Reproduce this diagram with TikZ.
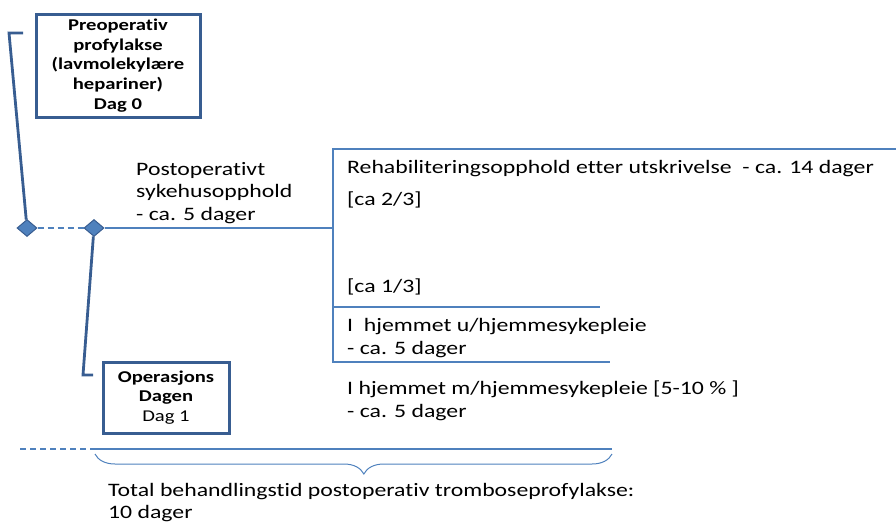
\documentclass[tikz,border=0pt]{standalone}
\usepackage{fontspec}
\setmainfont{Carlito}[FakeStretch=1.25,Ligatures=NoCommon]
\usepackage{tikz}
\usetikzlibrary{shapes.geometric,decorations.pathreplacing}
\definecolor{boxblue}{RGB}{56,93,145}
\definecolor{lineblue}{RGB}{79,129,189}

\begin{document}
\begin{tikzpicture}[x=1pt,y=-1pt,
    infobox/.style={draw=boxblue,line width=3pt,align=center,inner sep=0pt},
    milestone/.style={diamond,draw=boxblue,fill=lineblue,line width=1pt,inner sep=0pt,minimum width=20pt,minimum height=17pt},
    pin/.style={draw=boxblue,line width=2.8pt},
    track/.style={draw=lineblue,line width=1.2pt},
    note/.style={anchor=base west,align=left,inner sep=0pt,font=\fontsize{19}{22.5}\selectfont}]
    \useasboundingbox (0,0) rectangle (896,522);

    % boxes
    \node[infobox,minimum width=164pt,minimum height=103pt,font=\fontsize{16.5}{19.7}\selectfont\bfseries] (preop) at (118,65.5) {Preoperativ\\profylakse\\(lavmolekylære\\hepariner)\\Dag 0};
    \node[infobox,minimum width=126pt,minimum height=71pt,font=\fontsize{16.5}{19.7}\selectfont] (opday) at (166,397.5) {\textbf{Operasjons}\\\textbf{Dagen}\\Dag 1};

    % milestones
    \node[milestone] (d1) at (27,228) {};
    \node[milestone] (d2) at (94,228) {};

    % texts (base = last line)
    \node[note] (hosp) at (136,220) {Postoperativt\\sykehusopphold\\- ca. 5 dager};
    \node[note] (rehab) at (347,173) {Rehabiliteringsopphold etter utskrivelse\ \ - ca. 14 dager};
    \node[note] (share2) at (347,205) {[ca 2/3]};
    \node[note] (share1) at (347,292) {[ca 1/3]};
    \node[note] (home) at (347,354) {I\ \ hjemmet u/hjemmesykepleie\\- ca. 5 dager};
    \node[note] (nurse) at (347,417) {I hjemmet m/hjemmesykepleie [5-10 \% ]\\- ca. 5 dager};
    \node[note,font=\fontsize{19}{21.5}\selectfont] (total) at (108,518) {Total behandlingstid postoperativ tromboseprofylakse:\\10 dager};

    % corners
    \coordinate (p1a) at (23,33);
    \coordinate (p1b) at (9,33);
    \coordinate (p2a) at (83,375);
    \coordinate (p2b) at (93,375);
    \coordinate (fork) at (333,228);
    \coordinate (top) at (333,149);
    \coordinate (topend) at (896,149);
    \coordinate (bot) at (333,362);
    \coordinate (botend) at (610,362);
    \coordinate (splitl) at (333,307);
    \coordinate (splitr) at (600,307);
    \coordinate (tl0) at (20,449);
    \coordinate (tl1) at (95,449);
    \coordinate (tl2) at (612,449);

    \draw[pin] (p1a) -- (p1b) -- (d1);
    \draw[pin] (d2) -- (p2a) -- (p2b);
    \draw[track,dash pattern=on 6pt off 4pt] (d1) -- (d2);
    \draw[track] (d2) -- (fork);
    \draw[track] (topend) -- (top) -- (bot) -- (botend);
    \draw[track] (splitl) -- (splitr);
    \draw[track,dash pattern=on 6pt off 4pt] (tl0) -- (tl1);
    \draw[track] (tl1) -- (tl2);
    \draw[track,line width=1pt,decorate,decoration={brace,mirror,amplitude=20pt,aspect=0.52}] ([yshift=-5pt]tl1) -- ([yshift=-5pt]tl2);
\end{tikzpicture}
\end{document}
